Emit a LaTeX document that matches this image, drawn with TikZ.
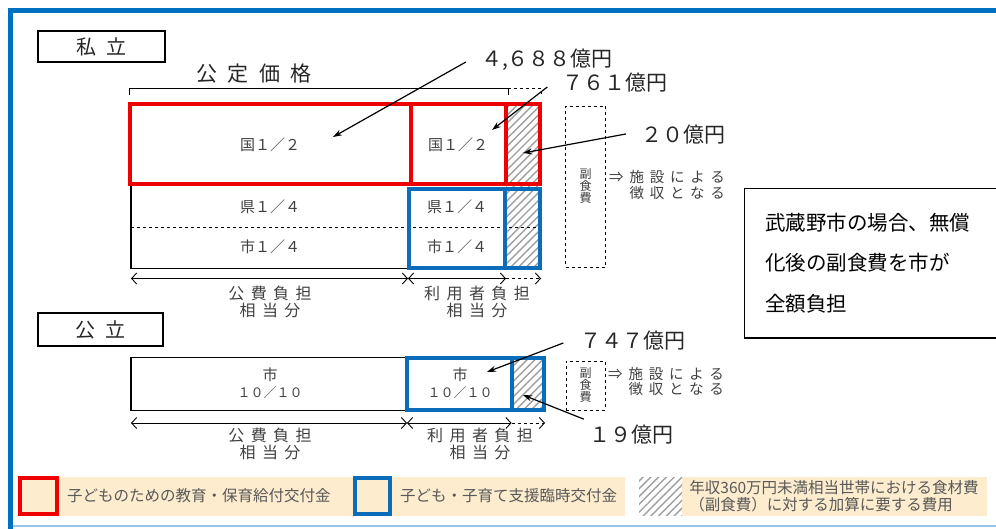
\documentclass[tikz,border=0pt]{standalone}
\usepackage{fontspec}
\setmainfont{Noto Sans CJK JP}
\newfontfamily\widefont[LetterSpace=40]{Noto Sans CJK JP}
\newfontfamily\tagfont[LetterSpace=50]{Noto Sans CJK JP}
\usepackage{tikz}
\usetikzlibrary{arrows.meta, patterns.meta, positioning}
\definecolor{frameblue}{HTML}{0070C0}
\definecolor{edgeblue}{HTML}{9DC3E6}
\definecolor{grantred}{HTML}{EE0000}
\definecolor{grantblue}{HTML}{0B6DBA}
\definecolor{legendbeige}{HTML}{FDECCD}
\definecolor{labelgray}{HTML}{404040}

\tikzset{
    cell/.style={inner sep=0pt, align=center, text=labelgray, font=\fontsize{15}{17}\selectfont},
    sharecell/.style={inner sep=0pt, align=center, text=labelgray, font=\widefont\fontsize{16}{17}\selectfont},
    tagbox/.style={draw, line width=1.5pt, inner sep=0pt, text=black!85, font=\tagfont\fontsize{20}{22}\selectfont},
    annotxt/.style={inner sep=0pt, text=black!85, font=\fontsize{21}{23}\selectfont},
    annot/.style={-{Stealth[length=9pt,width=6pt]}, line width=1.2pt},
    dimline/.style={{Straight Barb[length=5pt,width=11pt]}-{Straight Barb[length=5pt,width=11pt]}, line width=0.9pt},
    dimhalf/.style={-{Straight Barb[length=5pt,width=11pt]}, dashed, line width=0.9pt},
    hatchcell/.style={pattern={Lines[angle=45,distance=5.5pt,line width=1.4pt]}, pattern color=gray!75},
    redline/.style={draw=grantred, line width=4pt},
    blueline/.style={draw=grantblue, line width=4pt},
    sidebox/.style={draw, dashed, line width=0.8pt, inner sep=0pt, align=center, text=labelgray, font=\fontsize{12}{12}\selectfont},
    sidenote/.style={inner sep=0pt, align=right, text=labelgray, font=\widefont\fontsize{14.5}{15.5}\selectfont},
    keytext/.style={inner sep=0pt, align=left, text=black!65, font=\fontsize{15.5}{17}\selectfont}
}

\begin{document}
\begin{tikzpicture}[x=1pt, y=-1pt]
    \useasboundingbox (0,0) rectangle (996,529);

    % outer frame
    \draw[frameblue, line width=5pt] (10.5,529) -- (10.5,11) -- (996,11);
    \draw[edgeblue, line width=1.5pt] (13,526) -- (996,526);

    % 私立
    \node[tagbox, minimum width=127pt, minimum height=31pt] (shiritsu) at (101.5,46.5) {私立};
    \node[inner sep=0pt, text=black!85, font=\tagfont\fontsize{21}{23}\selectfont] (koteikakaku) at (254,74) {公定価格};
    \draw[line width=1pt] (129,95) -- (129,88.5) -- (508,88.5) -- (508,95);
    \draw[line width=0.8pt, dashed] (508,88.5) -- (541,88.5) -- (541,95);

    \fill[hatchcell] (506,104) rectangle (540,268);
    \draw[line width=1.5pt] (131,186) -- (131,268.5) -- (409,268.5);
    \draw[dashed, line width=1pt] (131,228) -- (540,228);
    \draw[redline] (130,104) rectangle (540,184.5);
    \draw[redline] (411,104) -- (411,184.5);
    \draw[redline] (506,104) -- (506,184.5);
    \draw[blueline] (409,189) rectangle (539.5,268);
    \draw[blueline] (505,189) -- (505,268);

    \node[cell] (kuniA) at (270,145) {国１／２};
    \node[cell] (kuniB) at (458,145) {国１／２};
    \node[cell] (kenA) at (270,207) {県１／４};
    \node[cell] (kenB) at (457,207) {県１／４};
    \node[cell] (shiA) at (270,247) {市１／４};
    \node[cell] (shiB) at (457,247) {市１／４};

    \coordinate (dimA) at (131,278.5);
    \coordinate (dimB) at (408,278.5);
    \coordinate (dimC) at (506,278.5);
    \coordinate (dimD) at (541,278.5);
    \draw[dimline] (dimA) -- (dimB);
    \draw[dimline] (dimB) -- (dimC);
    \draw[dimhalf] (dimC) -- (dimD);
    \node[sharecell] (kohiA) at (270,301.5) {公費負担\\相当分};
    \node[sharecell] (riyoA) at (477,301.5) {利用者負担\\相当分};

    \node[sidebox, minimum width=40pt, minimum height=161pt] (fukuA) at (585.5,186.5) {副\\食\\費};
    \node[sidenote, anchor=east] (choshuA) at (725,185) {⇒施設による\\徴収となる};

    % 金額の注記
    \node[annotxt] (amt4688) at (547,60) {４,６８８億円};
    \node[annotxt] (amt761) at (615,83) {７６１億円};
    \node[annotxt] (amt20) at (683,135) {２０億円};
    \coordinate (tip4688) at (333,137);
    \coordinate (tip761) at (492,130);
    \coordinate (tip20) at (523,153);
    \draw[annot] ([shift={(-15,2)}]amt4688.west) -- (tip4688);
    \draw[annot] ([shift={(-15,4)}]amt761.west) -- (tip761);
    \draw[annot] ([shift={(-15,-1)}]amt20.west) -- (tip20);

    % 武蔵野市の注記
    \draw[line width=1.2pt] (996,188.5) -- (744.5,188.5) -- (744.5,338) -- (996,338);
    \node[inner sep=0pt, anchor=west, align=left, font=\fontsize{20.5}{40.5}\selectfont] (musashino) at (765,263)
        {武蔵野市の場合、無償\\化後の副食費を市が\\全額負担};

    % 公立
    \node[tagbox, minimum width=125pt, minimum height=33pt] (koritsu) at (100.5,329.5) {公立};

    \fill[hatchcell] (511.5,358) rectangle (544,409.5);
    \draw[line width=1.5pt] (407,357.5) -- (131,357.5) -- (131,410.5) -- (407,410.5);
    \draw[blueline] (407,358) rectangle (544,409.5);
    \draw[blueline] (511.5,358) -- (511.5,409.5);

    \node[cell] (ichiA) at (270,383.5) {市\\{\fontsize{13}{17}\selectfont １０／１０}};
    \node[cell] (ichiB) at (460,383.5) {市\\{\fontsize{13}{17}\selectfont １０／１０}};

    \coordinate (dimE) at (131,423);
    \coordinate (dimF) at (407,423);
    \coordinate (dimG) at (511.5,423);
    \coordinate (dimH) at (545,423);
    \draw[dimline] (dimE) -- (dimF);
    \draw[dimline] (dimF) -- (dimG);
    \draw[dimhalf] (dimG) -- (dimH);
    \node[sharecell] (kohiB) at (270,443.5) {公費負担\\相当分};
    \node[sharecell] (riyoB) at (480,443.5) {利用者負担\\相当分};

    \node[sidebox, minimum width=39pt, minimum height=49pt] (fukuB) at (585.5,385.5) {副\\食\\費};
    \node[sidenote, anchor=east] (choshuB) at (724,381.5) {⇒施設による\\徴収となる};

    \node[annotxt] (amt747) at (633,341) {７４７億円};
    \node[annotxt] (amt19) at (631,435) {１９億円};
    \coordinate (tip747) at (487,372);
    \coordinate (tip19) at (523,395);
    \draw[annot] ([shift={(-17,2)}]amt747.west) -- (tip747);
    \draw[annot] ([shift={(-5,-6)}]amt19.north west) -- (tip19);

    % 凡例
    \fill[legendbeige] (18,477) rectangle (625,516);
    \fill[legendbeige] (682,477) rectangle (987,516);
    \node[draw=grantred, line width=4pt, fill=legendbeige, minimum width=37pt, minimum height=36pt, inner sep=0pt] (keyRed) at (38.5,496) {};
    \node[keytext, right=8pt of keyRed] (keyRedTxt) {子どものための教育・保育給付交付金};
    \node[draw=grantblue, line width=4pt, fill=legendbeige, minimum width=35pt, minimum height=36pt, inner sep=0pt] (keyBlue) at (372.5,496) {};
    \node[keytext, right=8pt of keyBlue] (keyBlueTxt) {子ども・子育て支援臨時交付金};
    \fill[white] (639,477) rectangle (682,515);
    \node[hatchcell, minimum width=43pt, minimum height=38pt, inner sep=0pt] (keyHatch) at (660.5,496) {};
    \node[keytext, right=7pt of keyHatch] (keyHatchTxt) {年収360万円未満相当世帯における食材費\\（副食費）に対する加算に要する費用};
\end{tikzpicture}
\end{document}
